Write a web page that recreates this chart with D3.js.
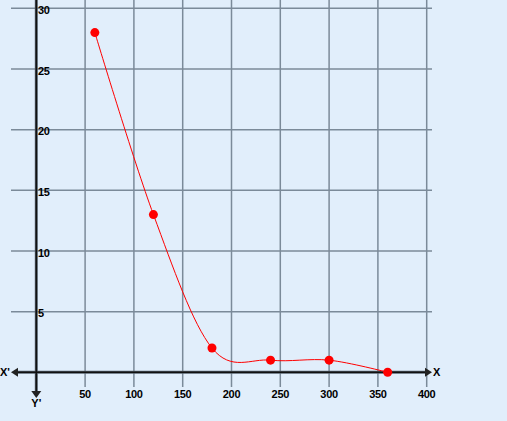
<!DOCTYPE html>
<html><head><meta charset="utf-8">
<script src="https://cdn.jsdelivr.net/npm/d3@7"></script>
<style>html,body{margin:0;padding:0;background:#e1eefb;}svg{display:block;}</style>
</head><body>
<svg id="c" width="507" height="421"></svg>
<script>
const xValues = [60, 120, 180, 240, 300, 360];
const yValues = [28, 13, 2, 1, 1, 0];
const xTicks = [50, 100, 150, 200, 250, 300, 350, 400];
const yTicks = [5, 10, 15, 20, 25, 30];

const svg = d3.select("#c");
svg.append("rect").attr("width",507).attr("height",421).attr("fill","#e1eefb");
const x = d3.scaleLinear().domain([0,400]).range([36.3,426.7]);
const y = d3.scaleLinear().domain([0,30]).range([372.3,8.3]);
const gridColor = "#7b8a99";
const font = "'Liberation Sans', Arial, sans-serif";

// vertical grid
svg.append("g").selectAll("line").data(xTicks).join("line")
  .attr("x1",d=>x(d)).attr("x2",d=>x(d)).attr("y1",0).attr("y2",387)
  .attr("stroke",gridColor).attr("stroke-width",1.5);
// horizontal grid
svg.append("g").selectAll("line").data(yTicks).join("line")
  .attr("x1",11).attr("x2",432).attr("y1",d=>y(d)).attr("y2",d=>y(d))
  .attr("stroke",gridColor).attr("stroke-width",1.5);

// axes
const ax = svg.append("g");
[["#55606c",3],["#111",1.5]].forEach(([c,w])=>{
  ax.append("line").attr("x1",14).attr("x2",428).attr("y1",y(0)).attr("y2",y(0)).attr("stroke",c).attr("stroke-width",w);
  ax.append("line").attr("x1",x(0)).attr("x2",x(0)).attr("y1",0).attr("y2",393).attr("stroke",c).attr("stroke-width",w);
});
const y0 = y(0), x0 = x(0);
ax.append("path").attr("d",`M11,${y0}L18,${y0-4.5}L18,${y0+4.5}Z`).attr("fill","#222");
ax.append("path").attr("d",`M432,${y0}L425,${y0-4.5}L425,${y0+4.5}Z`).attr("fill","#222");
ax.append("path").attr("d",`M${x0},398L${x0-5},391L${x0+5},391Z`).attr("fill","#222");

// tick labels
svg.append("g").selectAll("text").data(xTicks).join("text")
  .attr("x",d=>x(d)).attr("y",398).attr("text-anchor","middle")
  .attr("font-family",font).attr("font-weight","bold").attr("font-size",11).attr("fill","#000")
  .attr("letter-spacing","-0.3")
  .text(d=>d);
svg.append("g").selectAll("text").data(yTicks).join("text")
  .attr("x",38).attr("y",d=>y(d)+5.7)
  .attr("font-family",font).attr("font-weight","bold").attr("font-size",11).attr("fill","#000")
  .attr("letter-spacing","-0.3")
  .text(d=>d);

// axis names
const lab = (t,xx,yy,a)=>svg.append("text").attr("x",xx).attr("y",yy).attr("text-anchor",a||"start")
  .attr("font-family",font).attr("font-weight","bold").attr("font-size",11).attr("fill","#000").text(t);
lab("X'",0,376);
lab("X",433,376);
lab("Y'",x0,407,"middle");

// series
const pts = xValues.map((v,i)=>[v,yValues[i]]);
svg.append("path").datum(pts)
  .attr("d",d3.line().x(d=>x(d[0])).y(d=>y(d[1])).curve(d3.curveCardinal))
  .attr("fill","none").attr("stroke","#ff0000").attr("stroke-width",1);
svg.append("g").selectAll("circle").data(pts).join("circle")
  .attr("cx",d=>x(d[0])).attr("cy",d=>y(d[1])).attr("r",4.5).attr("fill","#ff0000");
</script>
</body></html>
